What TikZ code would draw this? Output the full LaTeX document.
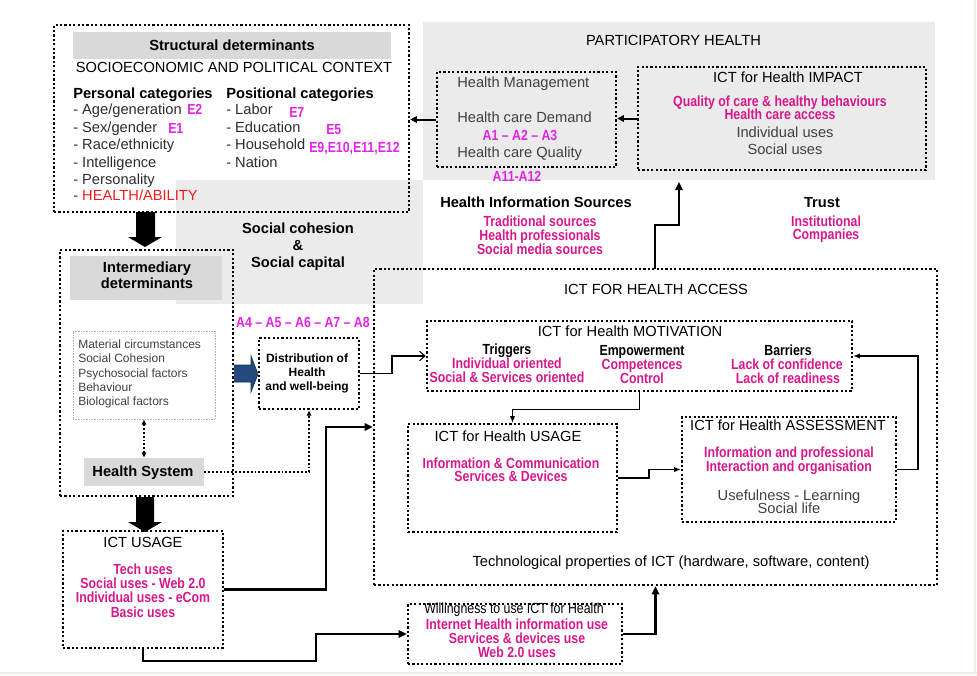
\documentclass[tikz,border=0pt]{standalone}
\usepackage{fontspec}
\setmainfont{Liberation Sans}
\newfontfamily\narrowfont[FakeStretch=0.84]{Liberation Sans}
\usetikzlibrary{arrows.meta}
\definecolor{pinkt}{RGB}{214,24,140}
\definecolor{violt}{RGB}{226,36,232}
\definecolor{redt}{RGB}{238,28,28}
\definecolor{bgg}{RGB}{235,235,235}
\definecolor{lblg}{RGB}{217,217,217}
\definecolor{grayt}{RGB}{64,64,64}
\definecolor{itemt}{RGB}{45,45,45}
\definecolor{bluea}{RGB}{34,74,124}
\definecolor{frameg}{RGB}{238,238,232}
\tikzset{
  box/.style={draw, line width=1.9pt, dash pattern=on 1.7pt off 1.6pt, inner sep=0pt},
  lbl/.style={fill=lblg, inner sep=0pt},
  tb/.style={inner sep=0pt, anchor=base, yshift=-3.7pt},
  tw/.style={inner sep=0pt, anchor=base west, yshift=-3.7pt},
  reg/.style={font=\fontsize{11}{12}\selectfont},
  bld/.style={font=\fontsize{11}{12}\selectfont\bfseries},
  nbk/.style={font=\fontsize{11}{12}\selectfont\narrowfont\bfseries},
  nrg/.style={font=\fontsize{11}{12}\selectfont\narrowfont},
  pk/.style={font=\fontsize{11}{12}\selectfont\narrowfont\bfseries, text=pinkt},
  vl/.style={font=\fontsize{11}{12}\selectfont\narrowfont\bfseries, text=violt},
  gy/.style={font=\fontsize{11}{12}\selectfont, text=grayt},
  it/.style={font=\fontsize{11}{12}\selectfont, text=itemt},
  sm/.style={font=\fontsize{9}{10}\selectfont, text=grayt},
  smb/.style={font=\fontsize{9}{10}\selectfont\bfseries},
  thk/.style={line width=1.5pt, -{Triangle[length=5pt,width=5pt]}},
  thk2/.style={line width=2pt, -{Triangle[length=6pt,width=5.5pt]}},
  thn/.style={line width=0.8pt, -{Latex[length=5pt,width=4pt]}},
  thnopen/.style={line width=0.8pt, -{Straight Barb[length=4pt,width=7pt]}},
  dotc/.style={line width=1.5pt, dash pattern=on 1.4pt off 1.5pt},
}
\begin{document}
\begin{tikzpicture}[x=0.75pt,y=-0.75pt]
\useasboundingbox (0,0) rectangle (977,675);
% faint frame edges
\draw[frameg, line width=1.2pt] (975,0) -- (975,672);
\draw[frameg, line width=1.5pt] (0,672.5) -- (977,672.5);
% gray regions
\fill[bgg] (423,22) rectangle (935,180);
\fill[bgg] (176,180) rectangle (423,304);

% ===== Structural determinants =====
\node[box, minimum width=266.25pt, minimum height=140.25pt] (struct) at (231.5,118.5) {};
\node[lbl, minimum width=238.5pt, minimum height=20.25pt] (structhead) at (232,45.5) {};
\node[tb,bld] (t_sd) at (232,46) {Structural determinants};
\node[tb,reg] (t_sepc) at (234,68) {SOCIOECONOMIC AND POLITICAL CONTEXT};
\node[tw,bld] (t_pers) at (73,94) {Personal categories};
\node[tw,bld] (t_posi) at (226,94) {Positional categories};
\node[tw,it] (p1) at (73,110) {- Age/generation};
\node[tw,it] (p2) at (73,128) {- Sex/gender};
\node[tw,it] (p3) at (73,145) {- Race/ethnicity};
\node[tw,it] (p4) at (73,162.5) {- Intelligence};
\node[tw,it] (p5) at (73,179.5) {- Personality};
\node[tw,it] (p6) at (73,196) {- {\color{redt}HEALTH/ABILITY}};
\node[tw,vl] (e2) at (187,110) {E2};
\node[tw,vl] (e1) at (168,128.5) {E1};
\node[tw,it] (q1) at (226,110) {- Labor};
\node[tw,it] (q2) at (226,128) {- Education};
\node[tw,it] (q3) at (226,145) {- Household};
\node[tw,it] (q4) at (226,162.5) {- Nation};
\node[tw,vl] (e7) at (289,113) {E7};
\node[tw,vl] (e5) at (326,130) {E5};
\node[tw,vl] (e9) at (309,148) {E9,E10,E11,E12};

% ===== Participatory health =====
\node[tb,reg] (t_ph) at (673.5,41) {PARTICIPATORY HEALTH};
\node[box, minimum width=134.25pt, minimum height=71.25pt] (hm) at (526.5,119.5) {};
\node[tw,gy] (hm1) at (457,83) {Health Management};
\node[tw,gy] (hm2) at (457,118) {Health care Demand};
\node[tb,vl] (a13) at (520,136) {A1 – A2 – A3};
\node[tw,gy] (hm3) at (457,153) {Health care Quality};
\node[tb,vl] (a1112) at (517,177) {A11-A12};
\node[box, minimum width=216pt, minimum height=77.25pt] (impact) at (782,118.5) {};
\node[tb,reg] (t_imp) at (788,78) {ICT for Health IMPACT};
\node[tb,pk] (im1) at (780,102) {Quality of care \& healthy behaviours};
\node[tb,pk] (im2) at (780,115) {Health care access};
\node[tb,gy] (im3) at (785,133) {Individual uses};
\node[tb,gy] (im4) at (785,150) {Social uses};

% ===== middle texts =====
\node[tb,bld] (t_his) at (536,203) {Health Information Sources};
\node[tb,pk] (his1) at (540,222) {Traditional sources};
\node[tb,pk] (his2) at (540,236) {Health professionals};
\node[tb,pk] (his3) at (540,250) {Social media sources};
\node[tb,bld] (t_tr) at (822,203) {Trust};
\node[tb,pk] (tr1) at (826,222) {Institutional};
\node[tb,pk] (tr2) at (826,235) {Companies};
\node[tb,bld] (sc1) at (298,229) {Social cohesion};
\node[tb,bld] (sc2) at (298,246) {\&};
\node[tb,bld] (sc3) at (298,263) {Social capital};
\node[tb,vl] (a48) at (303,323) {A4 – A5 – A6 – A7 – A8};

% ===== Intermediary determinants =====
\node[box, minimum width=129.75pt, minimum height=184.5pt] (inter) at (146.5,373) {};
\node[lbl, minimum width=114pt, minimum height=33pt] (interhead) at (146,278) {};
\node[tb,bld] (in1) at (147,268) {Intermediary};
\node[tb,bld] (in2) at (147,284) {determinants};
\node[draw=gray!60, line width=0.5pt, dash pattern=on 0.6pt off 0.6pt, inner sep=0pt,
      minimum width=106.5pt, minimum height=66pt] (matbox) at (144,375) {};
\node[tw,sm] (m1) at (78,344) {Material circumstances};
\node[tw,sm] (m2) at (78,358) {Social Cohesion};
\node[tw,sm] (m3) at (78,373) {Psychosocial factors};
\node[tw,sm] (m4) at (78,387) {Behaviour};
\node[tw,sm] (m5) at (78,401) {Biological factors};
\node[lbl, minimum width=90pt, minimum height=21pt] (hsys) at (144,472) {};
\node[tb,bld] (t_hs) at (143,472) {Health System};

% ===== Distribution =====
\node[box, minimum width=75pt, minimum height=53.25pt] (dist) at (309,373.5) {};
\node[tb,smb] (d1) at (307,358) {Distribution of};
\node[tb,smb] (d2) at (307,372) {Health};
\node[tb,smb] (d3) at (307,386) {and well-being};

% ===== ICT for health access =====
\node[box, minimum width=422.25pt, minimum height=237pt] (access) at (655.5,427) {};
\node[tb,reg] (t_acc) at (656,290) {ICT FOR HEALTH ACCESS};
\node[box, minimum width=318.75pt, minimum height=52.5pt] (motiv) at (639.5,356) {};
\node[tb,reg] (t_mot) at (630,332) {ICT for Health MOTIVATION};
\node[tb,nbk] (tg0) at (507,350) {Triggers};
\node[tb,pk] (tg1) at (507,364) {Individual oriented};
\node[tb,pk] (tg2) at (507,378) {Social \& Services oriented};
\node[tb,nbk] (em0) at (642,351) {Empowerment};
\node[tb,pk] (em1) at (642,365) {Competences};
\node[tb,pk] (em2) at (642,379) {Control};
\node[tb,nbk] (ba0) at (788,351) {Barriers};
\node[tb,pk] (ba1) at (787,365) {Lack of confidence};
\node[tb,pk] (ba2) at (788,379) {Lack of readiness};
\node[box, minimum width=156.75pt, minimum height=81pt] (usage) at (512.5,478) {};
\node[tb,reg] (t_us) at (508,437) {ICT for Health USAGE};
\node[tb,pk] (us1) at (511,464) {Information \& Communication};
\node[tb,pk] (us2) at (511,477) {Services \& Devices};
\node[box, minimum width=160.5pt, minimum height=78.75pt] (assess) at (789,469.5) {};
\node[tb,reg] (t_as) at (788,426) {ICT for Health ASSESSMENT};
\node[tb,pk] (as1) at (789,453) {Information and professional};
\node[tb,pk] (as2) at (789,467) {Interaction and organisation};
\node[tb,gy] (as3) at (789,496) {Usefulness - Learning};
\node[tb,gy] (as4) at (789,509) {Social life};
\node[tb,reg] (t_tech) at (671,562) {Technological properties of ICT (hardware, software, content)};

% ===== ICT usage =====
\node[box, minimum width=120pt, minimum height=87.75pt] (ictusage) at (143,589.5) {};
\node[tb,reg] (t_iu) at (143,543) {ICT USAGE};
\node[tb,pk] (iu1) at (143,570) {Tech uses};
\node[tb,pk] (iu2) at (143,584) {Social uses - Web 2.0};
\node[tb,pk] (iu3) at (143,598) {Individual uses - eCom};
\node[tb,pk] (iu4) at (143,613) {Basic uses};

% ===== Willingness =====
\node[box, minimum width=160.5pt, minimum height=45pt] (will) at (515,634) {};
\node[tb,nrg] (w0) at (514,609) {Willingness to use ICT for Health};
\node[tb,pk] (w1) at (517,625) {Internet Health information use};
\node[tb,pk] (w2) at (517,639) {Services \& devices use};
\node[tb,pk] (w3) at (517,653) {Web 2.0 uses};

% ===== block arrows =====
\fill[black] (136,212) -- (155,212) -- (155,237) -- (162,237) -- (145,247) -- (128,237) -- (136,237) -- cycle;
\fill[black] (136,497) -- (154,497) -- (154,522) -- (162,522) -- (145,532) -- (128,522) -- (136,522) -- cycle;
\filldraw[fill=bluea, draw=bluea!70!black, line width=0.5pt]
  (inter.east |- 0,365) -- (251,365) -- (251,356) -- (258,374) -- (251,392) -- (251,382) -- (inter.east |- 0,382) -- cycle;

% ===== connectors =====
\draw[thk] (impact.west) -- (impact.west -| hm.east);
\draw[thk] (hm.west) -- (hm.west -| struct.east);
\coordinate (acctop) at (655,269);
\coordinate (phbot) at (679,182);
\draw[thk2] (acctop) -- (655,225) -| (phbot);
\draw[thk2] (ictusage.east) -- (326,589.5) |- (access.west);
\draw[thk2] (ictusage.south) |- (316,661) |- (will.west);
\draw[thk2] (will.east) -| (access.south);
\draw[thnopen] (dist.east) -- (392,373.5) |- (motiv.west);
\draw[thn] (motiv.south) -- ++(0,17) -| (usage.north);
\draw[thn] (usage.east) -- (649,478) |- (assess.west);
\draw[thn] (assess.east) -- (918,469.5) |- (motiv.east);
\draw[dotc, {Latex[length=4pt,width=4pt]}-{Latex[length=4pt,width=4pt]}] (matbox.south) -- (matbox.south |- hsys.north);
\draw[dotc, -{Latex[length=4pt,width=4pt]}] (hsys.east) -| (dist.south);
\end{tikzpicture}
\end{document}
